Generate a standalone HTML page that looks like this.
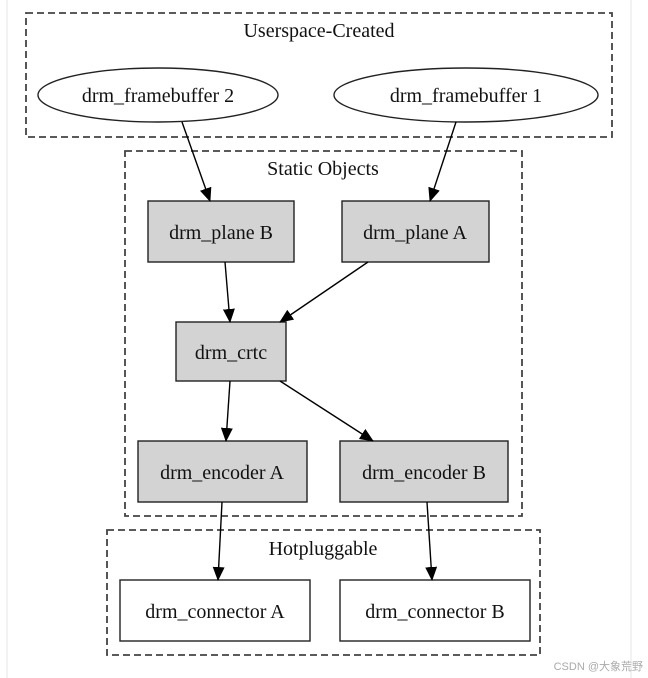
<!DOCTYPE html>
<html><head><meta charset="utf-8"><style>
body{margin:0;background:#fff;}
svg{display:block;font-family:"Liberation Serif",serif;}
</style></head><body>
<svg width="648" height="678" viewBox="0 0 648 678">
<defs><marker id="a" markerWidth="14" markerHeight="12" refX="13" refY="6" orient="auto" markerUnits="userSpaceOnUse"><path d="M0,0 L14,6 L0,12 z" fill="#000"/></marker></defs>
<line x1="7" y1="0" x2="7" y2="678" stroke="#e6e6e6"/>
<line x1="631" y1="0" x2="631" y2="678" stroke="#e6e6e6"/>
<g fill="none" stroke="#444" stroke-width="1.8" stroke-dasharray="7,4">
<rect x="26" y="13" width="586" height="124"/>
<rect x="125" y="151" width="397" height="365"/>
<rect x="107" y="530" width="433" height="125"/>
</g>
<g font-size="20" text-anchor="middle" fill="#111">
<text x="319" y="37">Userspace-Created</text>
<text x="323" y="175">Static Objects</text>
<text x="323" y="555">Hotpluggable</text>
</g>
<g stroke="#222" stroke-width="1.4">
<ellipse cx="158" cy="95" rx="120" ry="27" fill="#fff"/>
<ellipse cx="466" cy="95" rx="132" ry="27" fill="#fff"/>
<rect x="148" y="201" width="146" height="61" fill="#d3d3d3"/>
<rect x="342" y="201" width="147" height="61" fill="#d3d3d3"/>
<rect x="176" y="322" width="110" height="59" fill="#d3d3d3"/>
<rect x="138" y="441" width="169" height="61" fill="#d3d3d3"/>
<rect x="340" y="441" width="168" height="61" fill="#d3d3d3"/>
<rect x="120" y="580" width="190" height="61" fill="#fff"/>
<rect x="340" y="580" width="190" height="61" fill="#fff"/>
</g>
<g stroke="#000" stroke-width="1.4" marker-end="url(#a)">
<line x1="182" y1="122" x2="210" y2="201"/>
<line x1="456" y1="122" x2="430" y2="201"/>
<line x1="225" y1="262" x2="230" y2="322"/>
<line x1="368" y1="262" x2="280" y2="322"/>
<line x1="230" y1="381" x2="226" y2="441"/>
<line x1="280" y1="381" x2="373" y2="441"/>
<line x1="222" y1="502" x2="218" y2="580"/>
<line x1="427" y1="502" x2="432" y2="580"/>
</g>
<g font-size="20" text-anchor="middle" fill="#111">
<text x="158" y="102">drm_framebuffer 2</text>
<text x="466" y="102">drm_framebuffer 1</text>
<text x="221" y="239">drm_plane B</text>
<text x="415" y="239">drm_plane A</text>
<text x="231" y="359">drm_crtc</text>
<text x="222" y="479">drm_encoder A</text>
<text x="424" y="479">drm_encoder B</text>
<text x="215" y="618">drm_connector A</text>
<text x="435" y="618">drm_connector B</text>
</g>
<text x="643" y="670" font-size="11" text-anchor="end" fill="#aaa" font-family="'Liberation Sans','Noto Sans CJK SC',sans-serif">CSDN @大象荒野</text>
</svg>
</body></html>
